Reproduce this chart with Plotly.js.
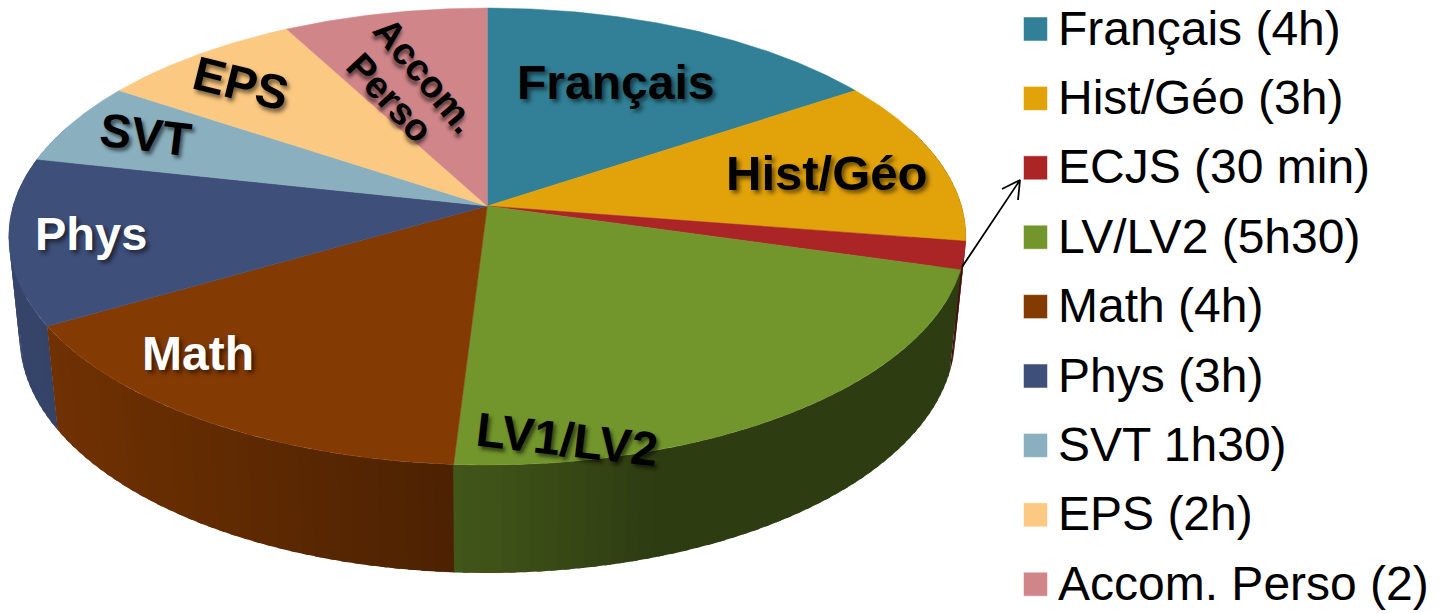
<!DOCTYPE html>
<html>
<head>
<meta charset="utf-8">
<script src="https://cdn.plot.ly/plotly-3.0.1.min.js"></script>
<style>html,body{margin:0;padding:0;background:#fff}#chart{width:1441px;height:613px}</style>
</head>
<body>
<div id="chart"></div>
<script>
// Data: weekly hours per subject
const subjects = ["Français","Hist/Géo","ECJS","LV/LV2","Math","Phys","SVT","EPS","Accom. Perso"];
const hours = [4,3,0.5,5.5,4,3,1.5,2,2];
const legendLabels = ["Français (4h)","Hist/Géo (3h)","ECJS (30 min)","LV/LV2 (5h30)","Math (4h)","Phys (3h)","SVT 1h30)","EPS (2h)","Accom. Perso (2)"];
const colors = [[49,128,151],[226,162,10],[171,37,39],[114,149,44],[132,58,3],[62,79,122],[138,176,191],[252,201,130],[208,133,137]];

// Slice captions drawn on the pie
const captionText  = ["Français","Hist/Géo","LV1/LV2","Math","Phys","SVT","EPS","Accom.","Perso"];
const captionX     = [615,826,567,198,91,146,241,425,390];
const captionY     = [82,173,439,353,233,134,83,75,98];
const captionAngle = [0,0,6.5,0,0,7,14,50,47];
const captionSize  = [48,49,48,48,47,47,48,38,38];
const captionColor = ["#000","#000","#000","#fff","#fff","#000","#000","#000","#000"];

// Arrow from the ECJS slice to its legend entry (open head)
const arrowX = [962,1020,1002,1020,1018];
const arrowY = [267,180,189,180,200];

// Pie view: projection of the tilted disc
const view = {cx:487.3, cy:206, A:474.2, B:224.4, k:0.1335, H:101.9, m:0.0226};
// Side wall shading as a function of screen x
const shadeX = [0,60,250,455,650,1000];
const shadeF = [0.88,0.85,0.72,0.58,0.40,0.40];

function project(deg, z){
  const t = deg*Math.PI/180, u = Math.sin(t), v = Math.cos(t);
  const w = 1 + view.k*v + view.m*z;
  return [view.cx + view.A*u/w, view.cy + (-view.B*v + view.H*z)/w];
}
function shade(x){
  for(let i=1;i<shadeX.length;i++){
    if(x<=shadeX[i]){
      const f=(x-shadeX[i-1])/(shadeX[i]-shadeX[i-1]);
      return shadeF[i-1]+f*(shadeF[i]-shadeF[i-1]);
    }
  }
  return shadeF[shadeF.length-1];
}
const total = hours.reduce((a,b)=>a+b,0);
let acc = 0;
const wedges = hours.map((h,i)=>{
  const a0 = acc/total*360; acc += h; const a1 = acc/total*360;
  return {a0,a1,i};
});

// Side wall: narrow bands, painted back to front, each overlapping its neighbours
const bands = [];
wedges.forEach(w=>{
  const n = Math.max(1,Math.ceil((w.a1-w.a0)/1.5));
  for(let j=0;j<n;j++){
    const s = w.a0+(w.a1-w.a0)*j/n, e = w.a0+(w.a1-w.a0)*(j+1)/n;
    if(Math.cos((s+e)/2*Math.PI/180) < 0.35) bands.push({s,e,i:w.i,a0:w.a0,a1:w.a1});
  }
});
bands.sort((p,q)=>Math.cos((q.s+q.e)/2*Math.PI/180)-Math.cos((p.s+p.e)/2*Math.PI/180));
const traces = [];
bands.forEach(b=>{
  const mid = (b.s+b.e)/2;
  const s = Math.max(b.s-(mid<180?0.6:0.1), b.a0-0.05);
  const e = Math.min(b.e+(mid<180?0.1:0.6), b.a1+0.05);
  const p = [project(s,0),project(e,0),project(e,1),project(s,1)];
  const f = shade(project(mid,1)[0]);
  const c = colors[b.i].map(v=>Math.round(v*f));
  const col = `rgb(${c.join(",")})`;
  traces.push({type:"scatter",mode:"lines",x:[...p.map(q=>q[0]),p[0][0]],y:[...p.map(q=>q[1]),p[0][1]],
    fill:"toself",fillcolor:col,line:{color:col,width:0},hoverinfo:"skip"});
});
// Top face
wedges.forEach(w=>{
  const xs=[view.cx], ys=[view.cy];
  const n = Math.ceil(w.a1-w.a0)*2;
  for(let j=0;j<=n;j++){
    const q = project(w.a0+(w.a1-w.a0)*j/n,0);
    xs.push(q[0]); ys.push(q[1]);
  }
  xs.push(view.cx); ys.push(view.cy);
  const col = `rgb(${colors[w.i].join(",")})`;
  traces.push({type:"scatter",mode:"lines",name:subjects[w.i],x:xs,y:ys,fill:"toself",fillcolor:col,
    line:{color:col,width:0.5},hoverinfo:"skip"});
});
// Legend
const legendY = subjects.map((s,i)=>29+i*69.4);
traces.push({type:"scatter",mode:"markers",x:subjects.map(()=>1035.5),y:legendY,hoverinfo:"skip",
  marker:{symbol:"square",size:24,color:colors.map(c=>`rgb(${c.join(",")})`),line:{color:"rgba(255,255,255,0.5)",width:1}}});
traces.push({type:"scatter",mode:"text",x:subjects.map(()=>1058),y:legendY.map(y=>y+3.5),text:legendLabels,textposition:"middle right",hoverinfo:"skip",
  textfont:{family:"Liberation Sans, Arial, sans-serif",size:48,color:"#000"}});
traces.push({type:"scatter",mode:"lines",x:arrowX,y:arrowY,hoverinfo:"skip",line:{color:"#000",width:1.8}});

const annotations = captionText.map((t,i)=>({
  x:captionX[i],y:captionY[i],xref:"x",yref:"y",text:t,showarrow:false,textangle:captionAngle[i],
  xanchor:"center",yanchor:"middle",
  font:{family:"Liberation Sans, Arial, sans-serif",size:captionSize[i],color:captionColor[i],weight:700,
    shadow:"3px 3px 4px rgba(0,0,0,0.55)"}
}));

Plotly.newPlot("chart",traces,{
  width:1441,height:613,margin:{l:0,r:0,t:0,b:0,pad:0},
  paper_bgcolor:"#fff",plot_bgcolor:"#fff",showlegend:false,hovermode:false,
  xaxis:{range:[0,1441],visible:false,fixedrange:true},
  yaxis:{range:[613,0],visible:false,fixedrange:true},
  annotations
},{displayModeBar:false,staticPlot:true});
</script>
</body>
</html>
